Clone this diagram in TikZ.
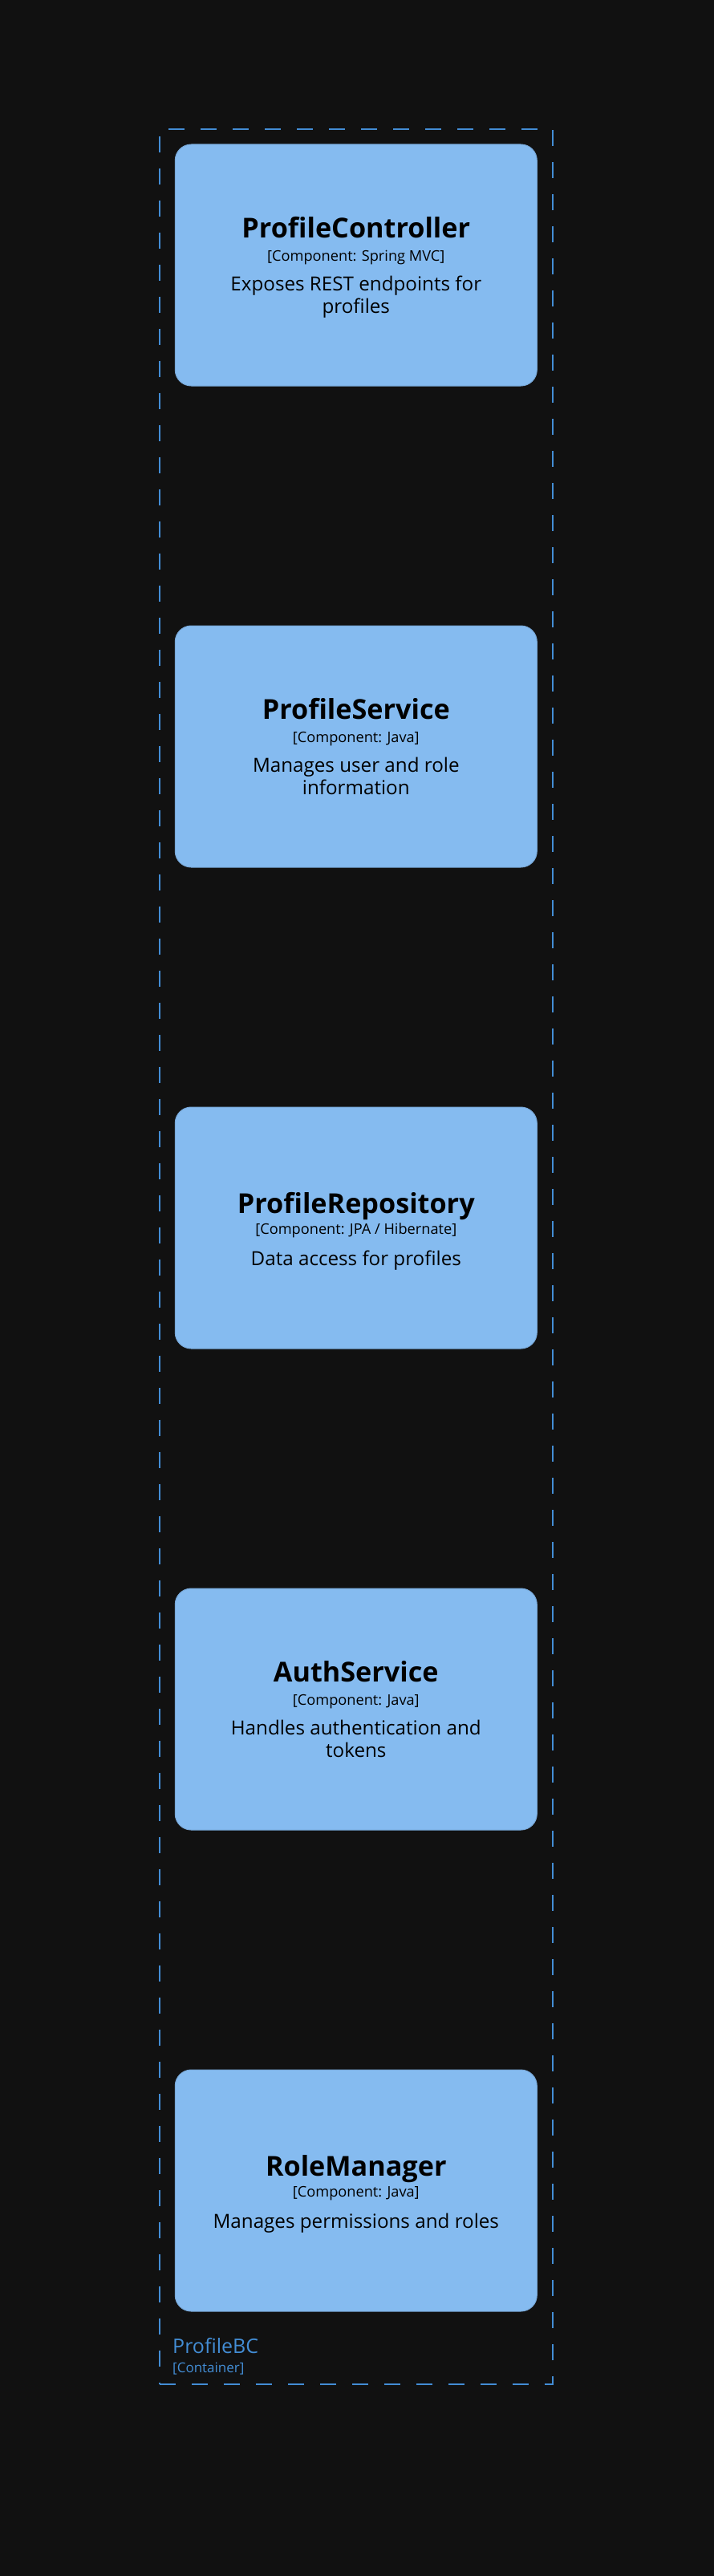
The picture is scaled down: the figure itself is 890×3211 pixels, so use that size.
\documentclass[tikz,border=0pt]{standalone}
\usepackage{fontspec}
\setmainfont{Open Sans}
\definecolor{bgColor}{HTML}{111111}
\definecolor{boxColor}{HTML}{85BBF0}
\definecolor{boxLineColor}{HTML}{78A8D8}
\definecolor{boundaryColor}{HTML}{438DD5}

\begin{document}
\begin{tikzpicture}[x=1pt,y=-1pt]

          \tikzstyle{compBox} = [draw=boxLineColor, fill=boxColor, line width=1pt, rounded corners=20pt, minimum width=451pt, minimum height=301pt, inner sep=0pt];
          \tikzstyle{titleText} = [anchor=base, inner sep=0pt, font=\fontsize{34.2}{40}\selectfont\bfseries];
          \tikzstyle{techText} = [anchor=base, inner sep=0pt, font=\fontsize{18.2}{22}\selectfont];
          \tikzstyle{descText} = [anchor=base, inner sep=0pt, font=\fontsize{24.2}{28}\selectfont];
          \tikzstyle{boundaryEdge} = [draw=boundaryColor, line width=1.7pt, dash pattern=on 20pt off 20pt, minimum width=490pt, minimum height=2811pt, inner sep=0pt];
          \tikzstyle{boundaryText} = [anchor=base west, inner sep=0pt, text=boundaryColor];

          \fill[bgColor] (0,0) rectangle (890,3211);
          \useasboundingbox (0,0) rectangle (890,3211);

          \node[boundaryEdge] (bc) at (443.8,1566.2) {};
          \node[boundaryText, font=\fontsize{25}{30}\selectfont] (bcName) at (215,2933) {ProfileBC};
          \node[boundaryText, font=\fontsize{17}{20}\selectfont] (bcType) at (215,2957) {[Container]};

          \node[compBox] (ctrl) at (443.8,330.5) {};
          \node[titleText] (ctrlTitle) at (443.8,296) {ProfileController};
          \node[techText] (ctrlTech) at (443.8,325) {[Component: Spring MVC]};
          \node[descText] (ctrlDesc) at (443.8,362) {Exposes REST endpoints for};
          \node[descText] (ctrlDescBis) at (443.8,390) {profiles};

          \node[compBox] (svc) at (443.8,930.5) {};
          \node[titleText] (svcTitle) at (443.8,896) {ProfileService};
          \node[techText] (svcTech) at (443.8,925) {[Component: Java]};
          \node[descText] (svcDesc) at (443.8,962) {Manages user and role};
          \node[descText] (svcDescBis) at (443.8,990) {information};

          \node[compBox] (repo) at (443.8,1530.5) {};
          \node[titleText] (repoTitle) at (443.8,1512) {ProfileRepository};
          \node[techText] (repoTech) at (443.8,1538) {[Component: JPA / Hibernate]};
          \node[descText] (repoDesc) at (443.8,1577) {Data access for profiles};

          \node[compBox] (auth) at (443.8,2130.5) {};
          \node[titleText] (authTitle) at (443.8,2096) {AuthService};
          \node[techText] (authTech) at (443.8,2125) {[Component: Java]};
          \node[descText] (authDesc) at (443.8,2162) {Handles authentication and};
          \node[descText] (authDescBis) at (443.8,2190) {tokens};

          \node[compBox] (role) at (443.8,2730.5) {};
          \node[titleText] (roleTitle) at (443.8,2712) {RoleManager};
          \node[techText] (roleTech) at (443.8,2738) {[Component: Java]};
          \node[descText] (roleDesc) at (443.8,2777) {Manages permissions and roles};
        \end{tikzpicture}
\end{document}
